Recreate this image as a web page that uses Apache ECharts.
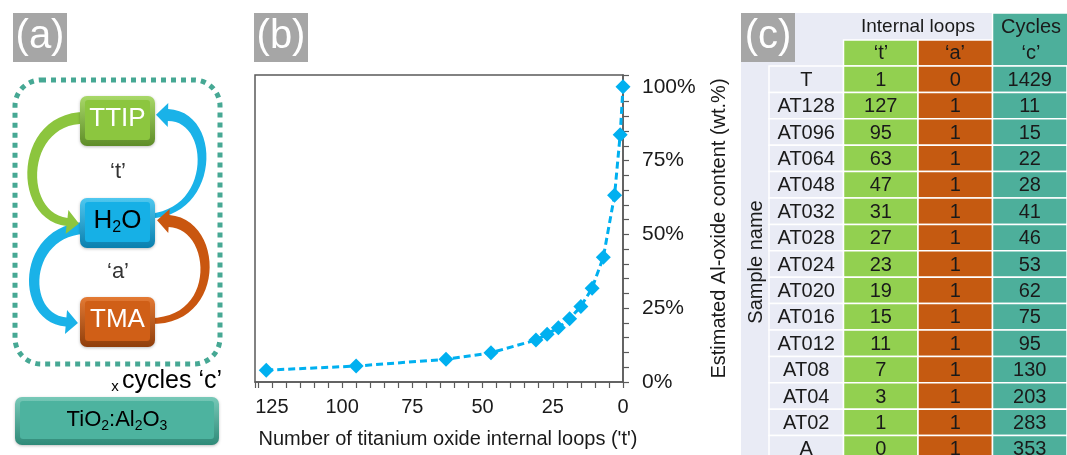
<!DOCTYPE html>
<html>
<head>
<meta charset="utf-8">
<script src="https://cdn.jsdelivr.net/npm/echarts@6/dist/echarts.min.js"></script>
<style>
  html, body { margin: 0; padding: 0; background: #fff; }
  #main { width: 1067px; height: 455px; }
</style>
</head>
<body>
<div id="main"></div>
<script>
// (b) оценка содержания Al-оксида от числа внутренних циклов TiO2
const loopsT  = [127, 95, 63, 47, 31, 27, 23, 19, 15, 11, 7, 3, 1, 0];
const alOxide = [4.0, 5.4, 7.7, 9.9, 14.2, 16.2, 18.4, 21.4, 25.6, 31.8, 42.3, 63.3, 83.8, 100];

// (c) таблица образцов
const sampleNames = ['T', 'AT128', 'AT096', 'AT064', 'AT048', 'AT032', 'AT028', 'AT024',
                     'AT020', 'AT016', 'AT012', 'AT08', 'AT04', 'AT02', 'A'];
const tLoops = [1, 127, 95, 63, 47, 31, 27, 23, 19, 15, 11, 7, 3, 1, 0];
const aLoops = [0, 1, 1, 1, 1, 1, 1, 1, 1, 1, 1, 1, 1, 1, 1];
const cycles = [1429, 11, 15, 22, 28, 41, 46, 53, 62, 75, 95, 130, 203, 283, 353];
const tableCols = ['name', 't', 'a', 'c'];

const FONT = '"Liberation Sans", Arial, sans-serif';
const GREEN = '#92d050', ORANGE = '#c55a11', TEAL = '#4daf9b', LAV = '#e9ebf5';
const BLUE = '#1ab2e8';
const COL_FILL = [LAV, GREEN, ORANGE, TEAL];

const chart = echarts.init(document.getElementById('main'));

// ---------- helpers for panel (a) ----------
function bez(p0, p1, p2, p3, t, k) {
  const u = 1 - t;
  return u*u*u*p0[k] + 3*u*u*t*p1[k] + 3*u*t*t*p2[k] + t*t*t*p3[k];
}
function bezD(p0, p1, p2, p3, t, k) {
  const u = 1 - t;
  return 3*u*u*(p1[k]-p0[k]) + 6*u*t*(p2[k]-p1[k]) + 3*t*t*(p3[k]-p2[k]);
}
// изогнутая стрелка-лента с наконечником
function arrow(p0, p1, p2, p3, w0, w1, headW, headL, color) {
  const L = [], R = [];
  const N = 28;
  for (let i = 0; i <= N; i++) {
    const t = i / N;
    const x = bez(p0, p1, p2, p3, t, 0), y = bez(p0, p1, p2, p3, t, 1);
    const dx = bezD(p0, p1, p2, p3, t, 0), dy = bezD(p0, p1, p2, p3, t, 1);
    const len = Math.hypot(dx, dy) || 1;
    const nx = -dy / len, ny = dx / len;
    const w = (w0 + (w1 - w0) * t) / 2;
    L.push([x + nx * w, y + ny * w]);
    R.push([x - nx * w, y - ny * w]);
  }
  const dx = p3[0] - p2[0], dy = p3[1] - p2[1];
  const len = Math.hypot(dx, dy);
  const ux = dx / len, uy = dy / len, nx = -uy, ny = ux;
  const tip = [p3[0] + ux * headL, p3[1] + uy * headL];
  const hl = [p3[0] + nx * headW / 2, p3[1] + ny * headW / 2];
  const hr = [p3[0] - nx * headW / 2, p3[1] - ny * headW / 2];
  return {
    type: 'polygon',
    shape: { points: L.concat([hl, tip, hr], R.reverse()) },
    style: { fill: color }
  };
}
function bevelBox(x, y, w, h, light, main, dark) {
  return [
    {
      type: 'rect',
      shape: { x: x, y: y, width: w, height: h, r: 7 },
      style: {
        fill: new echarts.graphic.LinearGradient(0, 0, 0, 1, [
          { offset: 0, color: light }, { offset: 1, color: dark }
        ]),
        shadowBlur: 3, shadowColor: 'rgba(0,0,0,0.25)', shadowOffsetY: 1
      }
    },
    {
      type: 'rect',
      shape: { x: x + 5, y: y + 4, width: w - 10, height: h - 10, r: 3 },
      style: { fill: main }
    }
  ];
}
function txt(text, x, y, size, color, extra) {
  return Object.assign({
    type: 'text',
    style: {
      text: text, x: x, y: y,
      font: size + 'px ' + FONT,
      fill: color,
      align: 'center', verticalAlign: 'middle',
      textAlign: 'center', textVerticalAlign: 'middle'
    }
  }, extra || {});
}
function subText(text, x, y, size, subSize, color) {
  return {
    type: 'text',
    style: {
      text: text, x: x, y: y,
      align: 'center', verticalAlign: 'middle',
      textAlign: 'center', textVerticalAlign: 'middle',
      rich: {
        n: { fontSize: size, fontFamily: FONT, color: color, lineHeight: size + 4 },
        s: { fontSize: subSize, fontFamily: FONT, color: color, lineHeight: subSize + 2, verticalAlign: 'bottom' }
      }
    }
  };
}
function labelBox(x, y, text) {
  return [
    { type: 'rect', shape: { x: x, y: y, width: 54, height: 49 }, style: { fill: '#a6a6a6' } },
    txt(text, x + 27, y + 24, 40, '#fff')
  ];
}

// ---------- panel (a) graphic ----------
const panelA = [].concat(
  labelBox(13, 13, '(a)'),
  [{
    type: 'rect',
    shape: { x: 15, y: 80, width: 205, height: 284, r: 26 },
    style: { fill: null, stroke: '#46a894', lineWidth: 5, lineDash: [5, 5] }
  }],
  [
    arrow([150, 216], [216, 212], [216, 116], [168, 115], 5, 12, 24, 12, BLUE),
    arrow([84, 228], [22, 232], [20, 318], [66, 322], 12, 9, 24, 12, BLUE),
    arrow([86, 118], [20, 116], [16, 216], [67, 222], 12, 8, 24, 12, '#8cc53e'),
    arrow([150, 321], [222, 322], [218, 224], [169, 221], 6, 12, 24, 12, '#c9560f')
  ],
  bevelBox(80, 96, 75, 50, '#a8d868', '#8cc63f', '#5e8c28'),
  bevelBox(80, 198, 75, 50, '#4fc8f0', '#16b0e6', '#0a7fae'),
  bevelBox(80, 297, 75, 50, '#e47a34', '#d05f17', '#8f3e0b'),
  [
    txt('TTIP', 117.5, 119, 26, '#fff'),
    subText('{n|H}{s|2}{n|O}', 117.5, 221, 26, 16, '#fff'),
    txt('TMA', 117.5, 320, 26, '#fff'),
    txt('‘t’', 118, 172, 22, '#333'),
    txt('‘a’', 118, 272, 22, '#333'),
    {
      type: 'text',
      style: {
        text: '{x|x} {c|cycles ‘c’}', x: 222, y: 381,
        align: 'right', verticalAlign: 'middle',
        textAlign: 'right', textVerticalAlign: 'middle',
        rich: {
          x: { fontSize: 15, fontFamily: FONT, color: '#333', lineHeight: 26, verticalAlign: 'bottom' },
          c: { fontSize: 25, fontFamily: FONT, color: '#333', lineHeight: 26 }
        }
      }
    }
  ],
  bevelBox(15, 397, 204, 48, '#78c9b8', '#4db39f', '#2f8a78'),
  [subText('{n|TiO}{s|2}{n|:Al}{s|2}{n|O}{s|3}', 117, 420, 22, 14, '#fff')]
);

// ---------- panel (b) label, panel (c) headers ----------
const panelBC = [].concat(
  labelBox(254, 13, '(b)'),
  [
    { type: 'rect', shape: { x: 741, y: 13, width: 252, height: 53 }, style: { fill: LAV } },
    { type: 'rect', shape: { x: 741, y: 66, width: 28, height: 400 }, style: { fill: LAV } },
    { type: 'rect', shape: { x: 843.5, y: 40, width: 74.5, height: 26 }, style: { fill: GREEN, stroke: '#fff', lineWidth: 1.5 } },
    { type: 'rect', shape: { x: 918, y: 40, width: 74.5, height: 26 }, style: { fill: ORANGE, stroke: '#fff', lineWidth: 1.5 } },
    { type: 'rect', shape: { x: 992.5, y: 13, width: 80, height: 53 }, style: { fill: TEAL, stroke: '#fff', lineWidth: 1.5 } }
  ],
  labelBox(741, 13, '(c)'),
  [
    txt('Internal loops', 918, 27, 19, '#1a1a1a'),
    txt('Cycles', 1031, 27, 20, '#1a1a1a'),
    txt('‘t’', 881, 53, 20, '#1a1a1a'),
    txt('‘a’', 955, 53, 20, '#1a1a1a'),
    txt('‘c’', 1031, 53, 20, '#1a1a1a'),
    txt('Sample name', 0, 0, 20, '#1a1a1a', { x: 756, y: 262, rotation: Math.PI / 2 })
  ]
);

// ---------- table cells ----------
const cellData = [];
sampleNames.forEach((_, row) => {
  tableCols.forEach((__, col) => cellData.push([col, row]));
});
const COLUMNS = [sampleNames, tLoops, aLoops, cycles];

function renderCell(params, api) {
  const col = api.value(0), row = api.value(1);
  const c = api.coord([col, row]);
  const s = api.size([1, 1]);
  return {
    type: 'group',
    children: [
      {
        type: 'rect',
        shape: { x: c[0] - s[0] / 2, y: c[1] - s[1] / 2, width: s[0], height: s[1] },
        style: { fill: COL_FILL[col], stroke: '#fff', lineWidth: 1.5 }
      },
      {
        type: 'text',
        style: {
          text: String(COLUMNS[col][row]),
          x: c[0], y: c[1] + 1,
          align: 'center', verticalAlign: 'middle',
          fill: '#1a1a1a',
          font: '20px ' + FONT
        }
      }
    ]
  };
}

const option = {
  animation: false,
  backgroundColor: '#fff',
  graphic: { elements: panelA.concat(panelBC) },
  grid: [
    {
      left: 255, top: 75, width: 368, height: 307,
      show: true, borderColor: '#5a5a5a', borderWidth: 1.5
    },
    { left: 769, top: 66, width: 298, height: 396, outerBoundsMode: 'none' }
  ],
  xAxis: [
    {
      gridIndex: 0,
      type: 'value',
      inverse: true,
      min: 0, max: 131, interval: 5,
      name: "Number of titanium oxide internal loops ('t')",
      nameLocation: 'middle',
      nameGap: 47,
      nameTextStyle: { fontFamily: FONT, fontSize: 20, color: '#1a1a1a', padding: [0, 0, 0, 18] },
      axisLine: { lineStyle: { color: '#5a5a5a', width: 1.5 } },
      axisTick: { length: 6, lineStyle: { color: '#5a5a5a', width: 1.2 } },
      axisLabel: {
        margin: 15, fontFamily: FONT, fontSize: 20, color: '#1a1a1a',
        formatter: v => (v % 25 === 0 ? String(v) : '')
      },
      splitLine: { show: false }
    },
    {
      gridIndex: 1, type: 'category', data: tableCols, show: false
    }
  ],
  yAxis: [
    {
      gridIndex: 0,
      type: 'value',
      position: 'right',
      min: 0, max: 104, interval: 5,
      name: 'Estimated Al-oxide content (wt.%)',
      nameLocation: 'middle',
      nameRotate: 90,
      nameGap: 86,
      nameTextStyle: { fontFamily: FONT, fontSize: 20, color: '#1a1a1a' },
      axisLine: { show: true, lineStyle: { color: '#5a5a5a', width: 1.5 } },
      axisTick: { show: true, length: 6, lineStyle: { color: '#5a5a5a', width: 1.2 } },
      axisLabel: {
        margin: 19, fontFamily: FONT, fontSize: 21, color: '#1a1a1a',
        formatter: v => (v % 25 === 0 ? v + '%' : '')
      },
      splitLine: { show: false }
    },
    {
      gridIndex: 1, type: 'category', data: sampleNames, inverse: true, show: false
    }
  ],
  series: [
    {
      type: 'line',
      xAxisIndex: 0, yAxisIndex: 0,
      data: loopsT.map((t, i) => [t, alOxide[i]]),
      symbol: 'diamond',
      symbolSize: 15,
      itemStyle: { color: '#00b0f0' },
      lineStyle: { color: '#00b0f0', width: 3, type: [7, 4] },
      z: 3
    },
    {
      type: 'custom',
      xAxisIndex: 1, yAxisIndex: 1,
      data: cellData,
      renderItem: renderCell,
      silent: true
    }
  ]
};

chart.setOption(option);
</script>
</body>
</html>
